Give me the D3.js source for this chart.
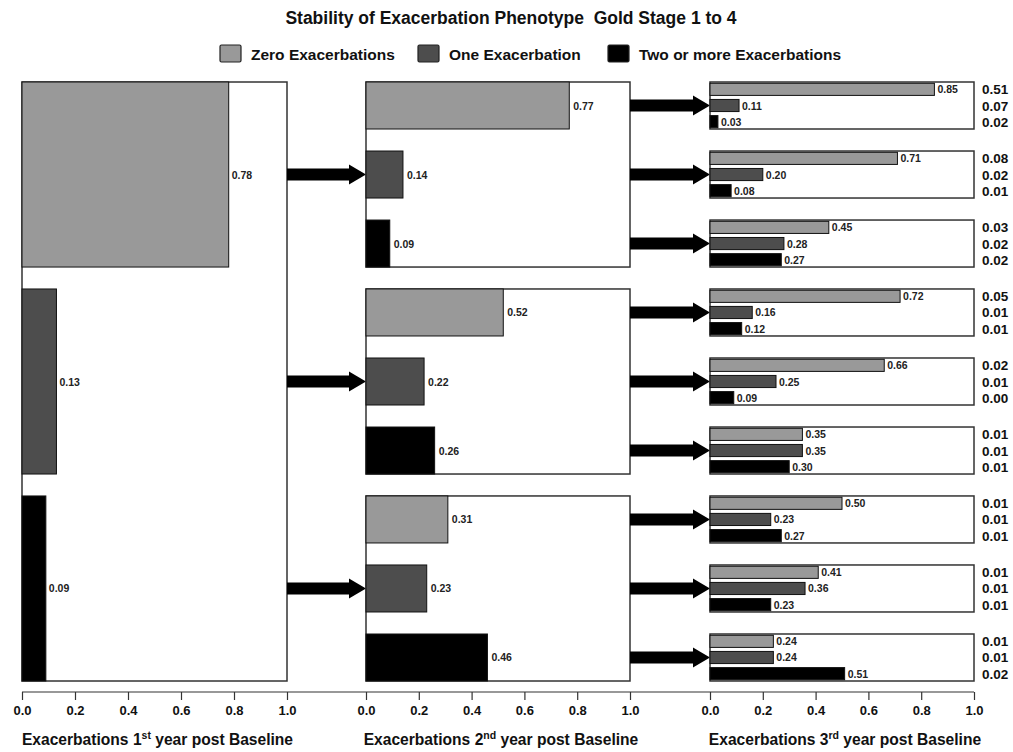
<!DOCTYPE html>
<html>
<head>
<meta charset="utf-8">
<script src="https://cdn.jsdelivr.net/npm/d3@7"></script>
<style>
  body { margin: 0; background: #fff; }
  text { font-family: "Liberation Sans", Arial, sans-serif; font-weight: bold; white-space: pre; }
</style>
</head>
<body>
<svg id="chart" width="1013" height="752"></svg>
<script>
// ---------- DATA ----------
const categories = ["Zero Exacerbations", "One Exacerbation", "Two or more Exacerbations"];
const colors = ["#999999", "#4d4d4d", "#000000"];
// Year 1 proportions
const year1 = [0.78, 0.13, 0.09];
// Year 2 proportions, by year-1 group
const year2 = [
  [0.77, 0.14, 0.09],
  [0.52, 0.22, 0.26],
  [0.31, 0.23, 0.46]
];
// Year 3 proportions, by year-1 group then year-2 group
const year3 = [
  [[0.85, 0.11, 0.03], [0.71, 0.20, 0.08], [0.45, 0.28, 0.27]],
  [[0.72, 0.16, 0.12], [0.66, 0.25, 0.09], [0.35, 0.35, 0.30]],
  [[0.50, 0.23, 0.27], [0.41, 0.36, 0.23], [0.24, 0.24, 0.51]]
];
// Right-hand column values
const overall = [
  [["0.51", "0.07", "0.02"], ["0.08", "0.02", "0.01"], ["0.03", "0.02", "0.02"]],
  [["0.05", "0.01", "0.01"], ["0.02", "0.01", "0.00"], ["0.01", "0.01", "0.01"]],
  [["0.01", "0.01", "0.01"], ["0.01", "0.01", "0.01"], ["0.01", "0.01", "0.02"]]
];
const tickValues = [0, 0.2, 0.4, 0.6, 0.8, 1.0];
const axisTitles = [["Exacerbations 1", "st", " year post Baseline"],
                    ["Exacerbations 2", "nd", " year post Baseline"],
                    ["Exacerbations 3", "rd", " year post Baseline"]];
const titleText = "Stability of Exacerbation Phenotype  Gold Stage 1 to 4";

// ---------- LAYOUT ----------
const svg = d3.select("#chart");
const plotTop = 82, plotBottom = 681, axisY = 692;
const x1 = d3.scaleLinear().domain([0, 1]).range([22, 287]);
const x2 = d3.scaleLinear().domain([0, 1]).range([366, 630]);
const x3 = d3.scaleLinear().domain([0, 1]).range([710, 974]);
const idx = [0, 1, 2];

const y1 = d3.scaleBand().domain(idx).range([plotTop, plotBottom]).paddingInner(0.106).paddingOuter(0);
const y2sub = d3.scaleBand().domain(idx).range([0, y1.bandwidth()]).paddingInner(0.319).paddingOuter(0);
const y3sub = d3.scaleBand().domain(idx).range([0, y2sub.bandwidth()]).paddingInner(0.25).paddingOuter(0.08);

// Title
svg.append("text").attr("x", 511).attr("y", 24).attr("text-anchor", "middle")
  .attr("font-size", 17.5).attr("fill", "#111").text(titleText);

// Legend
const legX = [220, 418, 608];
categories.forEach((c, i) => {
  svg.append("rect").attr("x", legX[i]).attr("y", 45).attr("width", 21).attr("height", 17)
    .attr("fill", colors[i]).attr("stroke", "#222").attr("stroke-width", 1.2).attr("rx", 1.5);
  svg.append("text").attr("x", legX[i] + 31).attr("y", 60).attr("font-size", 15.5).attr("fill", "#111").text(c);
});

// Arrow helper
function arrow(xs, xe, yc) {
  const hs = 6, hh = 10, hl = 17;
  const p = d3.path();
  p.moveTo(xs, yc - hs); p.lineTo(xe - hl, yc - hs); p.lineTo(xe - hl, yc - hh);
  p.lineTo(xe, yc); p.lineTo(xe - hl, yc + hh); p.lineTo(xe - hl, yc + hs);
  p.lineTo(xs, yc + hs); p.closePath();
  svg.append("path").attr("d", p.toString()).attr("fill", "#000");
}

const boxStroke = "#333";
// Panel 1
svg.append("rect").attr("x", x1(0)).attr("y", plotTop).attr("width", x1(1) - x1(0)).attr("height", plotBottom - plotTop)
  .attr("fill", "#fff").attr("stroke", boxStroke).attr("stroke-width", 1.5);
year1.forEach((v, i) => {
  svg.append("rect").attr("x", x1(0)).attr("y", y1(i)).attr("width", x1(v) - x1(0)).attr("height", y1.bandwidth())
    .attr("fill", colors[i]).attr("stroke", "#111").attr("stroke-width", 1);
  svg.append("text").attr("x", x1(v) + 3).attr("y", y1(i) + y1.bandwidth() / 2 + 4)
    .attr("font-size", 10.5).attr("fill", "#222").text(v.toFixed(2));
  arrow(x1(1), x2(0), y1(i) + y1.bandwidth() / 2);
});

// Panel 2
year2.forEach((grp, g) => {
  const gy = y1(g);
  svg.append("rect").attr("x", x2(0)).attr("y", gy).attr("width", x2(1) - x2(0)).attr("height", y1.bandwidth())
    .attr("fill", "#fff").attr("stroke", boxStroke).attr("stroke-width", 1.5);
  grp.forEach((v, i) => {
    const by = gy + y2sub(i);
    svg.append("rect").attr("x", x2(0)).attr("y", by).attr("width", x2(v) - x2(0)).attr("height", y2sub.bandwidth())
      .attr("fill", colors[i]).attr("stroke", "#111").attr("stroke-width", 1);
    svg.append("text").attr("x", x2(v) + 4).attr("y", by + y2sub.bandwidth() / 2 + 4)
      .attr("font-size", 10.5).attr("fill", "#222").text(v.toFixed(2));
    arrow(x2(1), x3(0), by + y2sub.bandwidth() / 2);

    // Panel 3 box for this year-2 bar
    svg.append("rect").attr("x", x3(0)).attr("y", by).attr("width", x3(1) - x3(0)).attr("height", y2sub.bandwidth())
      .attr("fill", "#fff").attr("stroke", boxStroke).attr("stroke-width", 1.5);
    year3[g][i].forEach((w, k) => {
      const cy = by + y3sub(k);
      svg.append("rect").attr("x", x3(0)).attr("y", cy).attr("width", x3(w) - x3(0)).attr("height", y3sub.bandwidth())
        .attr("fill", colors[k]).attr("stroke", "#111").attr("stroke-width", 1);
      svg.append("text").attr("x", x3(w) + 3).attr("y", cy + y3sub.bandwidth() / 2 + 4)
        .attr("font-size", 10.5).attr("fill", "#222").text(w.toFixed(2));
      svg.append("text").attr("x", 982).attr("y", cy + y3sub.bandwidth() / 2 + 5)
        .attr("font-size", 13.5).attr("fill", "#111").text(overall[g][i][k]);
    });
  });
});

// Axes
svg.append("line").attr("x1", x1(0)).attr("x2", x3(1)).attr("y1", axisY).attr("y2", axisY)
  .attr("stroke", "#333").attr("stroke-width", 1.2);
[x1, x2, x3].forEach((sc, p) => {
  const ax = svg.append("g").attr("transform", `translate(0,${axisY})`)
    .call(d3.axisBottom(sc).tickValues(tickValues).tickFormat(d3.format(".1f")).tickSize(8).tickSizeOuter(0).tickPadding(6));
  ax.select(".domain").remove();
  ax.selectAll(".tick line").attr("stroke", "#333").attr("stroke-width", 1.2);
  ax.selectAll(".tick text").attr("font-size", 13).attr("font-weight", "bold")
    .attr("font-family", "Liberation Sans, Arial, sans-serif").attr("fill", "#111");
  const t = svg.append("text").attr("x", (sc(0) + sc(1)) / 2 + 3).attr("y", 745)
    .attr("text-anchor", "middle").attr("font-size", 15.6).attr("fill", "#111");
  t.append("tspan").text(axisTitles[p][0]);
  t.append("tspan").attr("font-size", 10.5).attr("dy", -6).text(axisTitles[p][1]);
  t.append("tspan").attr("dy", 6).text(axisTitles[p][2]);
});
</script>
</body>
</html>
